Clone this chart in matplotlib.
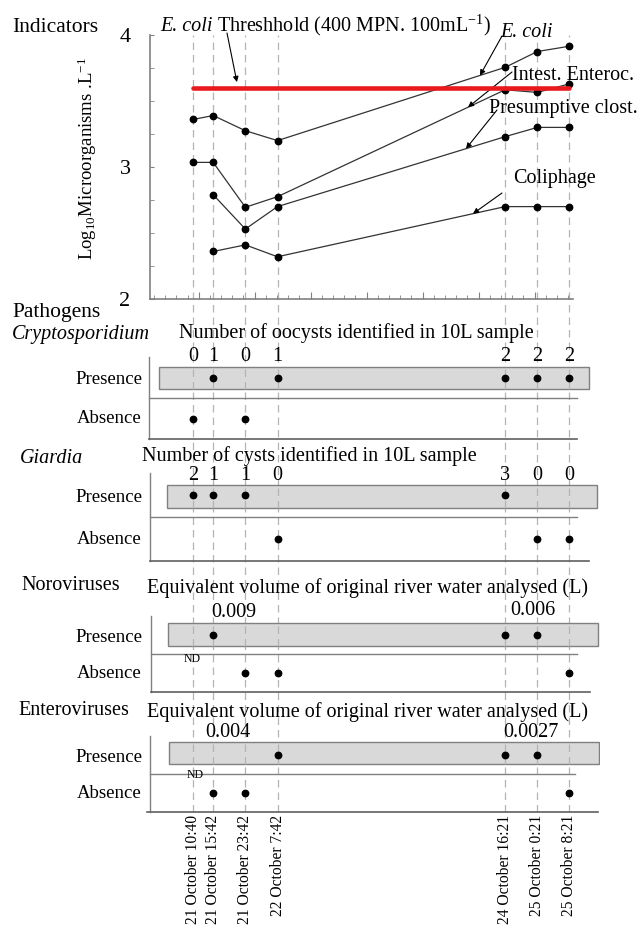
import numpy as np
import matplotlib
matplotlib.use("Agg")
import matplotlib.pyplot as plt
import matplotlib.transforms as mtransforms
from matplotlib.patches import Rectangle
from matplotlib.ticker import FixedLocator, MultipleLocator

plt.rcParams['font.family'] = 'Liberation Serif'
plt.rcParams['mathtext.fontset'] = 'custom'
plt.rcParams['mathtext.rm'] = 'Liberation Serif'
plt.rcParams['mathtext.it'] = 'Liberation Serif:italic'

# sampling times
sample_labels = ['21 October 10:40', '21 October 15:42', '21 October 23:42',
                 '22 October 7:42', '24 October 16:21', '25 October 0:21',
                 '25 October 8:21']

# indicators, log10 organisms per L
ecoli = [3.36, 3.39, 3.275, 3.20, 3.755, 3.875, 3.915]
enteroc = [3.035, 3.035, 2.695, 2.775, 3.585, 3.565, 3.63]
clost = [np.nan, 2.79, 2.53, 2.70, 3.23, 3.30, 3.30]
coliphage = [np.nan, 2.36, 2.41, 2.32, 2.70, 2.70, 2.70]
threshold = np.log10(400 * 10)   # 400 MPN/100 mL

# pathogens
crypto_counts = [0, 1, 0, 1, 2, 2, 2]
giardia_counts = [2, 1, 1, 0, 3, 0, 0]
noro_detect = [np.nan, 1, 0, 0, 1, 1, 0]     # nan = ND
noro_volumes = ['0.009', '0.006']
entero_detect = [np.nan, 0, 0, 1, 1, 1, 0]
entero_volumes = ['0.004', '0.0027']


def to_hours(lab):
    day, _, hm = lab.split()
    h, m = hm.split(':')
    return (int(day) - 21) * 24 + int(h) + int(m) / 60


hours = np.array([to_hours(s) for s in sample_labels])

W, H = 638, 933
fig = plt.figure(figsize=(W / 100, H / 100), dpi=100)


def fx(px):
    return px / W


def fy(py):
    return 1 - py / H


def rect(x0, y0, x1, y1):
    return [x0 / W, 1 - y1 / H, (x1 - x0) / W, (y1 - y0) / H]


def px2h(px):
    # 4.02 px per hour, hour 0 at the left spine
    return (px - 150.1) / 4.019


FS = 14.5
GRAY = '#808080'

# dashed guide lines through the whole figure
ax_bg = fig.add_axes(rect(150, 35, 598, 812), zorder=0)
ax_bg.set_xlim(px2h(150), px2h(598))
ax_bg.set_ylim(0, 1)
ax_bg.axis('off')
ax_bg.vlines(hours, 0, 1, colors='#b4b4b4', linestyles=(0, (6, 4)), lw=0.9)

# ---- indicators
ax = fig.add_axes(rect(150, 35, 573, 299), zorder=2)
ax.patch.set_alpha(0)
ax.set_xlim(px2h(150), px2h(573))
ax.set_ylim(2, 4)
for s in ['top', 'right']:
    ax.spines[s].set_visible(False)
for s in ['left', 'bottom']:
    ax.spines[s].set_color(GRAY)
    ax.spines[s].set_linewidth(1.2)
ax.yaxis.set_major_locator(FixedLocator([2, 3, 4]))
ax.yaxis.set_minor_locator(MultipleLocator(0.25))
ax.xaxis.set_major_locator(FixedLocator(np.arange(px2h(198.7), 106, 13.93)))
ax.xaxis.set_minor_locator(FixedLocator(np.arange(px2h(198.7) - 13.93, 106, 13.93 / 5)))
ax.tick_params(axis='both', which='both', direction='in', color=GRAY, length=3)
ax.tick_params(axis='x', which='major', length=5, labelbottom=False)
ax.tick_params(axis='y', which='major', labelsize=16, pad=14)
ax.set_yticklabels(['2', '3', '4'])

for ser in [ecoli, enteroc, clost, coliphage]:
    ax.plot(hours, ser, color='#333333', lw=0.9, marker='o', ms=4.6,
            mfc='black', mec='black', zorder=3)
ax.plot([hours[0], hours[-1]], [threshold, threshold], color='#e8191f',
        lw=3.3, solid_capstyle='round', zorder=4)

fig.text(fx(87), fy(158), r'Log$_{10}$Microorganisms .L$^{-1}$', rotation=90,
         ha='center', va='center', fontsize=13.5)
fig.text(fx(12), fy(32), 'Indicators', fontsize=15.5, va='baseline')

# threshold caption: italic species name followed by plain text
t1 = fig.text(fx(160), fy(31), 'E. coli', fontsize=FS, style='italic',
              va='baseline')
bb = t1.get_window_extent(fig.canvas.get_renderer())
fig.text((bb.x1 + 5) / W, fy(31), r'Threshhold (400 MPN. 100mL$^{-1}$)',
         fontsize=FS, va='baseline')

arrow = dict(arrowstyle='-|>', color='black', lw=0.8, mutation_scale=8,
             shrinkA=0, shrinkB=0)
ax.annotate('', xy=(px2h(238), threshold), xytext=(fx(227), fy(33)),
            textcoords='figure fraction',
            arrowprops=dict(arrow, shrinkB=4), annotation_clip=False)

labels = [('E. coli', ecoli, 480, (502, 36), (500, 37), 'italic'),
          ('Intest. Enteroc.', enteroc, 468, (512, 72), (512, 80), 'normal'),
          ('Presumptive clost.', clost, 466, (497, 110), (489, 113), 'normal'),
          ('Coliphage', coliphage, 473, (502, 193), (513, 183), 'normal')]
for name, ser, tip_px, start, tpos, style in labels:
    ser = np.array(ser)
    ok = ~np.isnan(ser)
    th = px2h(tip_px)
    ty = np.interp(th, hours[ok], ser[ok])
    ax.annotate('', xy=(th, ty), xytext=(fx(start[0]), fy(start[1])),
                textcoords='figure fraction', arrowprops=arrow,
                annotation_clip=False)
    fig.text(fx(tpos[0]), fy(tpos[1]), name, fontsize=FS, style=style,
             va='baseline')

# ---- pathogens
fig.text(fx(12), fy(317), 'Pathogens', fontsize=15.5, va='baseline')


def panel(name, name_xy, title, title_xy, top, bottom, pres_px, box_px,
          spine_x, mid_end, bot_x, italic):
    a = fig.add_axes(rect(140, top, 600, bottom), zorder=1)
    a.patch.set_alpha(0)
    a.set_xlim(px2h(140), px2h(600))
    a.set_ylim(-0.5, 1.5)
    a.axis('off')

    def d(py):
        return 1.5 - (py - top) / (bottom - top) * 2

    a.add_patch(Rectangle((px2h(box_px[0]), d(box_px[3])),
                          px2h(box_px[2]) - px2h(box_px[0]),
                          d(box_px[1]) - d(box_px[3]),
                          facecolor='#d9d9d9', edgecolor=GRAY, lw=1, zorder=1))
    a.vlines(hours, d(box_px[3]), d(box_px[1]), colors='#b4b4b4',
             linestyles=(0, (6, 4)), lw=0.9, zorder=2)
    a.plot([px2h(spine_x)] * 2, [-0.5, 1.5], color=GRAY, lw=1, clip_on=False)
    a.plot([px2h(spine_x), px2h(mid_end)], [0.5, 0.5], color=GRAY, lw=1)
    a.plot([px2h(bot_x[0]), px2h(bot_x[1])], [-0.5, -0.5], color='#606060',
           lw=1.2, clip_on=False)
    fig.text(fx(name_xy[0]), fy(name_xy[1]), name, fontsize=FS,
             style='italic' if italic else 'normal', va='baseline')
    fig.text(fx(title_xy[0]), fy(title_xy[1]), title, fontsize=FS, va='baseline')
    fig.text(fx(142), fy(pres_px + 7), 'Presence', fontsize=13.5, ha='right',
             va='baseline')
    fig.text(fx(142), fy(pres_px + 46 * (bottom - top) / 82), 'Absence',
             fontsize=13.5, ha='right', va='baseline')
    return a


def dots(a, flags):
    flags = np.array(flags, dtype=float)
    a.plot(hours[flags == 1], np.ones((flags == 1).sum()), 'o', color='black',
           ms=4.6, zorder=3)
    a.plot(hours[flags == 0], np.zeros((flags == 0).sum()), 'o', color='black',
           ms=4.6, zorder=3)


def counts(a, vals, base_py):
    tr = mtransforms.blended_transform_factory(a.transData, fig.transFigure)
    for t, v in zip(hours, vals):
        a.text(t, fy(base_py), str(v), transform=tr, ha='center',
               va='baseline', fontsize=FS)


crypto = panel('Cryptosporidium', (12, 339),
               'Number of oocysts identified in 10L sample', (179, 338),
               357, 439, 377.5, (159, 367, 589, 389), 149, 577, (149, 577), True)
dots(crypto, [c > 0 for c in crypto_counts])
counts(crypto, crypto_counts, 361)

giardia = panel('Giardia', (20, 463), 'Number of cysts identified in 10L sample',
                (142, 461), 473, 561, 495, (167, 485, 597, 508), 150, 577,
                (150, 589), True)
dots(giardia, [c > 0 for c in giardia_counts])
counts(giardia, giardia_counts, 480)

noro = panel('Noroviruses', (21, 590),
             'Equivalent volume of original river water analysed (L)', (147, 593),
             616, 692, 635, (168, 623, 598, 646), 151, 577, (151, 590), False)
dots(noro, noro_detect)
fig.text(fx(234), fy(617), noro_volumes[0], fontsize=FS, ha='center', va='baseline')
fig.text(fx(533), fy(615), noro_volumes[1], fontsize=FS, ha='center', va='baseline')
fig.text(fx(192), fy(662), 'ND', fontsize=8.5, ha='center', va='baseline')

entero = panel('Enteroviruses', (18, 715),
               'Equivalent volume of original river water analysed (L)', (147, 717),
               736, 812, 755, (169, 742, 599, 764), 150, 575, (147, 598), False)
dots(entero, entero_detect)
fig.text(fx(228), fy(737), entero_volumes[0], fontsize=FS, ha='center', va='baseline')
fig.text(fx(531), fy(737), entero_volumes[1], fontsize=FS, ha='center', va='baseline')
fig.text(fx(195), fy(778), 'ND', fontsize=8.5, ha='center', va='baseline')

tr = mtransforms.blended_transform_factory(entero.transData, fig.transFigure)
for t, lab in zip(hours, sample_labels):
    entero.text(t, fy(815), lab, transform=tr, rotation=90, ha='center',
                va='top', fontsize=11.2)

fig.savefig('out.png', dpi=100)
